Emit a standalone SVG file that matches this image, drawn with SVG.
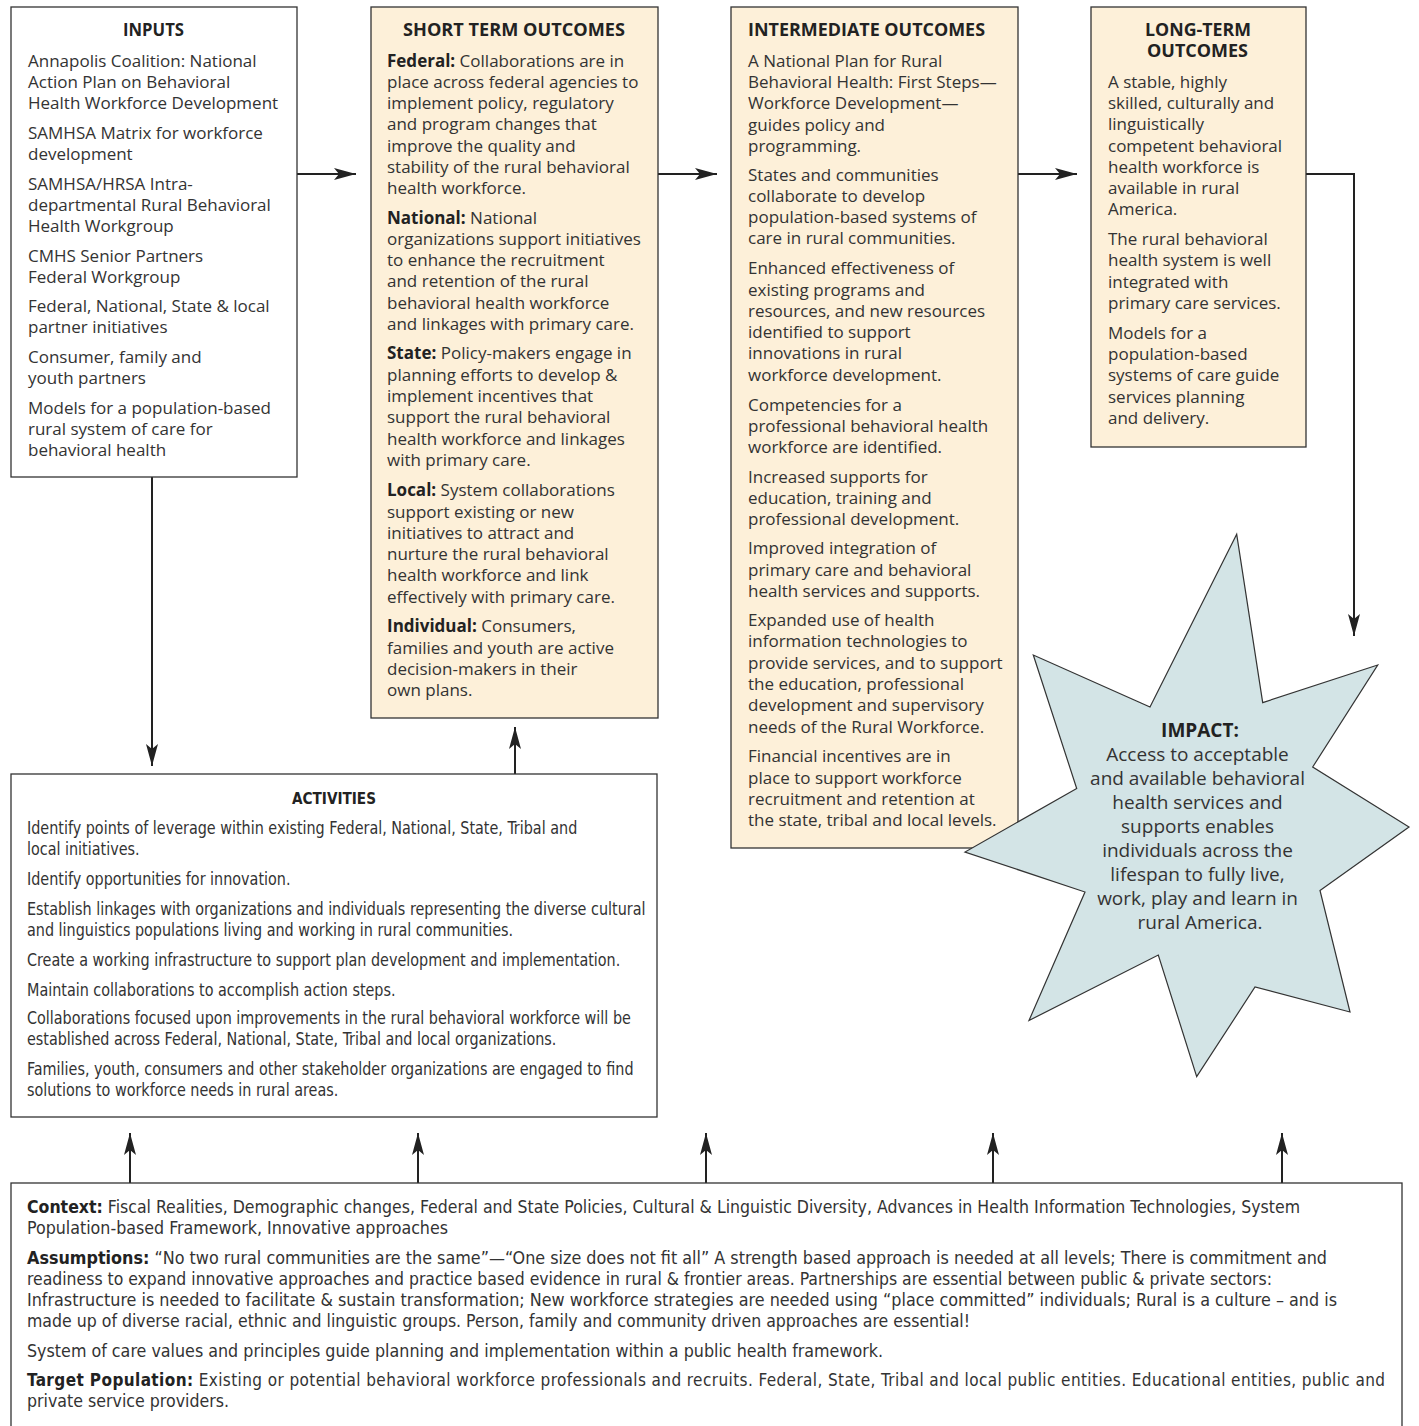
<svg xmlns="http://www.w3.org/2000/svg" width="1419" height="1426" viewBox="0 0 1419 1426">
<style>
.box{fill:#fff;stroke:#333;stroke-width:1.3}
.cream{fill:#fdf0d9}
.star{fill:#d3e4e6;stroke:#333;stroke-width:1.2;stroke-linejoin:miter}
.t{font-family:"Open Sans","Noto Sans",sans-serif;font-size:17px;fill:#333}
.h{font-family:"Open Sans","Noto Sans",sans-serif;font-size:17px;font-weight:bold;fill:#222}
.b{font-weight:bold;fill:#222}
.c{font-family:"Liberation Sans Narrow","DejaVu Sans Condensed","Liberation Sans",sans-serif;font-stretch:condensed;font-size:17px;fill:#333}
.ch{font-family:"Liberation Sans Narrow","DejaVu Sans Condensed","Liberation Sans",sans-serif;font-stretch:condensed;font-size:16px;font-weight:bold;fill:#222}
.imp{font-family:"Open Sans","Noto Sans",sans-serif;font-size:19px;fill:#333;text-anchor:middle}
.ln{fill:none;stroke:#222;stroke-width:2}
</style>
<defs>
<marker id="ah" markerUnits="userSpaceOnUse" markerWidth="24" markerHeight="14" refX="22" refY="6" orient="auto">
<path d="M0,0 L22,6 L0,12 L5,6 z" fill="#222"/>
</marker>
</defs>

<g id="connectors">
<path class="ln" d="M297,174 H356" marker-end="url(#ah)"/>
<path class="ln" d="M658,174 H717" marker-end="url(#ah)"/>
<path class="ln" d="M1018,174 H1077" marker-end="url(#ah)"/>
<path class="ln" d="M1306,174 H1354 V636" marker-end="url(#ah)"/>
<path class="ln" d="M152,477 V766" marker-end="url(#ah)"/>
<path class="ln" d="M515,774 V727" marker-end="url(#ah)"/>
<path class="ln" d="M130,1183 V1133" marker-end="url(#ah)"/>
<path class="ln" d="M418,1183 V1133" marker-end="url(#ah)"/>
<path class="ln" d="M706,1183 V1133" marker-end="url(#ah)"/>
<path class="ln" d="M993,1183 V1133" marker-end="url(#ah)"/>
<path class="ln" d="M1282,1183 V1133" marker-end="url(#ah)"/>
</g>

<g id="inputs">
<rect class="box" x="11" y="7" width="286" height="470"/>
<text class="h" x="123" y="36" textLength="61" lengthAdjust="spacingAndGlyphs">INPUTS</text>
<text class="t">
<tspan x="28" y="67">Annapolis Coalition: National</tspan>
<tspan x="28" y="88">Action Plan on Behavioral</tspan>
<tspan x="28" y="109">Health Workforce Development</tspan>
<tspan x="28" y="139">SAMHSA Matrix for workforce</tspan>
<tspan x="28" y="160">development</tspan>
<tspan x="28" y="190">SAMHSA/HRSA Intra-</tspan>
<tspan x="28" y="211">departmental Rural Behavioral</tspan>
<tspan x="28" y="232">Health Workgroup</tspan>
<tspan x="28" y="262">CMHS Senior Partners</tspan>
<tspan x="28" y="283">Federal Workgroup</tspan>
<tspan x="28" y="312">Federal, National, State &amp; local</tspan>
<tspan x="28" y="333">partner initiatives</tspan>
<tspan x="28" y="363">Consumer, family and</tspan>
<tspan x="28" y="384">youth partners</tspan>
<tspan x="28" y="414">Models for a population-based</tspan>
<tspan x="28" y="435">rural system of care for</tspan>
<tspan x="28" y="456">behavioral health</tspan>
</text>
</g>

<g id="short-term">
<rect class="box cream" x="371" y="7" width="287" height="711"/>
<text class="h" x="403" y="36" textLength="222" lengthAdjust="spacingAndGlyphs">SHORT TERM OUTCOMES</text>
<text class="t">
<tspan x="387" y="67"><tspan class="b">Federal:</tspan> Collaborations are in</tspan>
<tspan x="387" y="88">place across federal agencies to</tspan>
<tspan x="387" y="109">implement policy, regulatory</tspan>
<tspan x="387" y="130">and program changes that</tspan>
<tspan x="387" y="152">improve the quality and</tspan>
<tspan x="387" y="173">stability of the rural behavioral</tspan>
<tspan x="387" y="194">health workforce.</tspan>
<tspan x="387" y="224"><tspan class="b">National:</tspan> National</tspan>
<tspan x="387" y="245">organizations support initiatives</tspan>
<tspan x="387" y="266">to enhance the recruitment</tspan>
<tspan x="387" y="287">and retention of the rural</tspan>
<tspan x="387" y="309">behavioral health workforce</tspan>
<tspan x="387" y="330">and linkages with primary care.</tspan>
<tspan x="387" y="359"><tspan class="b">State:</tspan> Policy-makers engage in</tspan>
<tspan x="387" y="381">planning efforts to develop &amp;</tspan>
<tspan x="387" y="402">implement incentives that</tspan>
<tspan x="387" y="423">support the rural behavioral</tspan>
<tspan x="387" y="445">health workforce and linkages</tspan>
<tspan x="387" y="466">with primary care.</tspan>
<tspan x="387" y="496"><tspan class="b">Local:</tspan> System collaborations</tspan>
<tspan x="387" y="518">support existing or new</tspan>
<tspan x="387" y="539">initiatives to attract and</tspan>
<tspan x="387" y="560">nurture the rural behavioral</tspan>
<tspan x="387" y="581">health workforce and link</tspan>
<tspan x="387" y="603">effectively with primary care.</tspan>
<tspan x="387" y="632"><tspan class="b">Individual:</tspan> Consumers,</tspan>
<tspan x="387" y="654">families and youth are active</tspan>
<tspan x="387" y="675">decision-makers in their</tspan>
<tspan x="387" y="696">own plans.</tspan>
</text>
</g>

<g id="intermediate">
<rect class="box cream" x="731" y="7" width="287" height="841"/>
<text class="h" x="748" y="36" textLength="237" lengthAdjust="spacingAndGlyphs">INTERMEDIATE OUTCOMES</text>
<text class="t">
<tspan x="748" y="67">A National Plan for Rural</tspan>
<tspan x="748" y="88">Behavioral Health: First Steps—</tspan>
<tspan x="748" y="109">Workforce Development—</tspan>
<tspan x="748" y="131">guides policy and</tspan>
<tspan x="748" y="152">programming.</tspan>
<tspan x="748" y="181">States and communities</tspan>
<tspan x="748" y="202">collaborate to develop</tspan>
<tspan x="748" y="223">population-based systems of</tspan>
<tspan x="748" y="244">care in rural communities.</tspan>
<tspan x="748" y="274">Enhanced effectiveness of</tspan>
<tspan x="748" y="296">existing programs and</tspan>
<tspan x="748" y="317">resources, and new resources</tspan>
<tspan x="748" y="338">identified to support</tspan>
<tspan x="748" y="359">innovations in rural</tspan>
<tspan x="748" y="381">workforce development.</tspan>
<tspan x="748" y="411">Competencies for a</tspan>
<tspan x="748" y="432">professional behavioral health</tspan>
<tspan x="748" y="453">workforce are identified.</tspan>
<tspan x="748" y="483">Increased supports for</tspan>
<tspan x="748" y="504">education, training and</tspan>
<tspan x="748" y="525">professional development.</tspan>
<tspan x="748" y="554">Improved integration of</tspan>
<tspan x="748" y="576">primary care and behavioral</tspan>
<tspan x="748" y="597">health services and supports.</tspan>
<tspan x="748" y="626">Expanded use of health</tspan>
<tspan x="748" y="647">information technologies to</tspan>
<tspan x="748" y="669">provide services, and to support</tspan>
<tspan x="748" y="690">the education, professional</tspan>
<tspan x="748" y="711">development and supervisory</tspan>
<tspan x="748" y="733">needs of the Rural Workforce.</tspan>
<tspan x="748" y="762">Financial  incentives are in</tspan>
<tspan x="748" y="784">place to support workforce</tspan>
<tspan x="748" y="805">recruitment and retention at</tspan>
<tspan x="748" y="826">the state, tribal and local levels.</tspan>
</text>
</g>

<g id="long-term">
<rect class="box cream" x="1091" y="7" width="215" height="440"/>
<text class="h" x="1145" y="36" textLength="106" lengthAdjust="spacingAndGlyphs">LONG-TERM</text>
<text class="h" x="1147" y="57" textLength="101" lengthAdjust="spacingAndGlyphs">OUTCOMES</text>
<text class="t">
<tspan x="1108" y="88">A stable, highly</tspan>
<tspan x="1108" y="109">skilled, culturally and</tspan>
<tspan x="1108" y="130">linguistically</tspan>
<tspan x="1108" y="152">competent behavioral</tspan>
<tspan x="1108" y="173">health workforce is</tspan>
<tspan x="1108" y="194">available in rural</tspan>
<tspan x="1108" y="215">America.</tspan>
<tspan x="1108" y="245">The rural behavioral</tspan>
<tspan x="1108" y="266">health system is well</tspan>
<tspan x="1108" y="288">integrated with</tspan>
<tspan x="1108" y="309">primary care services.</tspan>
<tspan x="1108" y="339">Models for a</tspan>
<tspan x="1108" y="360">population-based</tspan>
<tspan x="1108" y="381">systems of care guide</tspan>
<tspan x="1108" y="403">services planning</tspan>
<tspan x="1108" y="424">and delivery.</tspan>
</text>
</g>

<g id="impact">
<polygon class="star" points="1236.7,534.3 1262.7,702.6 1377.7,665 1312.7,767 1409,827 1320,890.5 1350,1012 1255,987 1196.7,1076.7 1158.3,955 1029,1020.5 1085,892 965,852 1076.7,788.5 1033.3,655 1150,707"/>
<text class="imp" x="1200" y="737" style="font-weight:bold;fill:#222">IMPACT:</text>
<text class="imp">
<tspan x="1200" y="761">Access to acceptable</tspan>
<tspan x="1200" y="785">and available behavioral</tspan>
<tspan x="1200" y="809">health services and</tspan>
<tspan x="1200" y="833">supports enables</tspan>
<tspan x="1200" y="857">individuals across the</tspan>
<tspan x="1200" y="881">lifespan to fully live,</tspan>
<tspan x="1200" y="905">work, play and learn in</tspan>
<tspan x="1200" y="929">rural America.</tspan>
</text>
</g>

<g id="activities">
<rect class="box" x="11" y="774" width="646" height="343"/>
<text class="ch" x="292" y="804" textLength="84" lengthAdjust="spacingAndGlyphs">ACTIVITIES</text>
<g transform="translate(27,0) scale(0.94,1) translate(-27,0)">
<text class="c">
<tspan x="27" y="834">Identify points of leverage within existing Federal, National, State, Tribal and</tspan>
<tspan x="27" y="855">local initiatives.</tspan>
<tspan x="27" y="885">Identify opportunities for innovation.</tspan>
<tspan x="27" y="915">Establish linkages with organizations and individuals representing the diverse cultural</tspan>
<tspan x="27" y="936">and linguistics populations living and working in rural communities.</tspan>
<tspan x="27" y="966">Create a working infrastructure to support plan development and implementation.</tspan>
<tspan x="27" y="996">Maintain collaborations to accomplish action steps.</tspan>
<tspan x="27" y="1024">Collaborations focused upon improvements in the rural behavioral workforce will be</tspan>
<tspan x="27" y="1045">established across Federal, National, State, Tribal and local organizations.</tspan>
<tspan x="27" y="1075">Families, youth, consumers and other stakeholder organizations are engaged to find</tspan>
<tspan x="27" y="1096">solutions to workforce needs in rural areas.</tspan>
</text>
</g>
</g>

<g id="context">
<rect class="box" x="11" y="1183" width="1391" height="260"/>
<text class="c" x="27" y="1213" textLength="1273" lengthAdjust="spacingAndGlyphs"><tspan class="b">Context:</tspan> Fiscal Realities, Demographic changes, Federal and State Policies, Cultural &amp; Linguistic Diversity, Advances in Health Information Technologies, System</text>
<text class="c" x="27" y="1234" textLength="421" lengthAdjust="spacingAndGlyphs">Population-based Framework, Innovative approaches</text>
<text class="c" x="27" y="1264" textLength="1300" lengthAdjust="spacingAndGlyphs"><tspan class="b">Assumptions:</tspan> “No two rural communities are the same”—“One size does not fit all” A strength based approach is needed at all levels; There is commitment and</text>
<text class="c" x="27" y="1285" textLength="1245" lengthAdjust="spacingAndGlyphs">readiness to expand innovative approaches and practice based evidence in rural &amp; frontier areas. Partnerships are essential between public &amp; private sectors:</text>
<text class="c" x="27" y="1306" textLength="1310" lengthAdjust="spacingAndGlyphs">Infrastructure is needed to facilitate &amp; sustain transformation; New workforce strategies  are needed using “place committed” individuals; Rural is a culture – and is</text>
<text class="c" x="27" y="1327" textLength="943" lengthAdjust="spacingAndGlyphs">made up of diverse racial, ethnic and linguistic groups. Person, family and community driven approaches are essential!</text>
<text class="c" x="27" y="1357" textLength="856" lengthAdjust="spacingAndGlyphs">System of care values and principles guide planning and implementation within a public health framework.</text>
<text class="c" x="27" y="1386" textLength="1358" lengthAdjust="spacing"><tspan class="b">Target Population:</tspan> Existing or potential behavioral workforce professionals and recruits. Federal, State, Tribal and local public entities. Educational entities, public and</text>
<text class="c" x="27" y="1407" textLength="202" lengthAdjust="spacingAndGlyphs">private service providers.</text>
</g>
</svg>
